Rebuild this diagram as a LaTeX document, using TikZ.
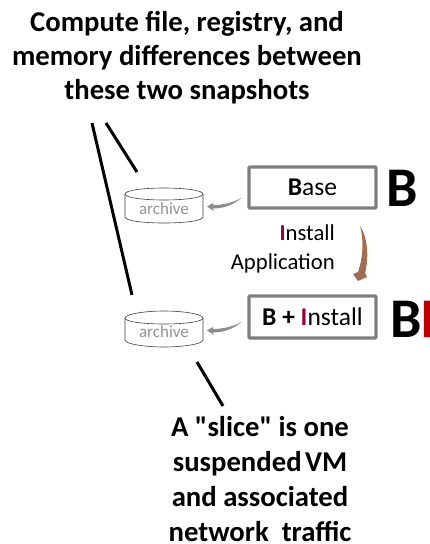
\documentclass[tikz,border=0pt]{standalone}
\usepackage{fontspec}
\setmainfont{Carlito}[Ligatures=TeXOff]
\usetikzlibrary{shapes.geometric,arrows.meta}
\definecolor{boxgray}{RGB}{127,127,127}
\definecolor{crim}{RGB}{150,0,60}
\definecolor{brite}{RGB}{192,0,0}
\definecolor{brownarrow}{RGB}{160,110,80}
\tikzset{
  title/.style={font=\fontsize{28.7}{34}\selectfont\bfseries,align=center,text=black,inner sep=0pt},
  titleb/.style={font=\fontsize{28.7}{35}\selectfont\bfseries,align=center,text=black,inner sep=0pt},
  vmbox/.style={draw=boxgray,line width=3.2pt,fill=white,rounded corners=0.8pt,minimum width=127pt,inner sep=0pt,font=\fontsize{25.5}{28}\selectfont},
  bigl/.style={font=\fontsize{56}{56}\selectfont\bfseries,inner sep=0pt,anchor=west},
  lbl/.style={font=\fontsize{22.7}{28.5}\selectfont,align=right,inner sep=0pt,text=black},
  arch/.style={font=\fontsize{17}{20}\selectfont,text=gray!85,inner sep=0pt},
  cyl/.style={draw=black!75,line width=0.6pt,fill=white},
  lead/.style={draw=black,line width=3pt},
  grayarr/.style={fill=boxgray!90,draw=none}
}
\begin{document}
\begin{tikzpicture}[x=1pt,y=-1pt]
\useasboundingbox (0,0) rectangle (429,544);
\node[title] (t1) at (187,58) {Compute file, registry, and\\memory differences between\\these two snapshots};
\node[titleb] (t2) at (260,479.5) {A "slice" is one\\suspended\kern-3pt\ VM\\and associated\\network\ \ traffic};

\node[vmbox,minimum height=41pt] (base) at (312.5,187.5) {\textbf{B}ase};
\node[vmbox,minimum height=42pt] (inst) at (312.5,317) {\textbf{B + }\textcolor{crim}{\textbf{I}}nstall};
\node[bigl] (bB) at (386,188) {B};
\node[bigl] (bI) at (390,319) {B\kern-1.5pt\textcolor{brite}{I}};
\node[lbl,anchor=north east] (lab) at (335,225) {\textcolor{crim}{\textbf{I}}nstall\\Application};

% archive cylinders
\draw[cyl] (125,194) .. controls (125,190) and (145,188) .. (164,188) .. controls (183,188) and (203,190) .. (203,194) -- (203,217) .. controls (203,221) and (183,223) .. (164,223) .. controls (145,223) and (125,221) .. (125,217) -- cycle;
\draw[cyl] (125,194) .. controls (125,198) and (145,200) .. (164,200) .. controls (183,200) and (203,198) .. (203,194);
\node[arch] (a1) at (164,209) {archive};
\draw[cyl] (125,318) .. controls (125,314) and (145,311) .. (164,311) .. controls (183,311) and (203,314) .. (203,318) -- (203,340) .. controls (203,344) and (183,347) .. (164,347) .. controls (145,347) and (125,344) .. (125,340) -- cycle;
\draw[cyl] (125,318) .. controls (125,322) and (145,324) .. (164,324) .. controls (183,324) and (203,322) .. (203,318);
\node[arch] (a2) at (164,332) {archive};

% lead lines
\coordinate (p1) at (92,123); \coordinate (p2) at (132,295);
\coordinate (p3) at (106,123); \coordinate (p4) at (137,172);
\coordinate (p5) at (197,362); \coordinate (p6) at (223,406);
\draw[lead] (p1) -- (p2);
\draw[lead] (p3) -- (p4);
\draw[lead] (p5) -- (p6);

% gray arrows
\fill[grayarr] (241.5,198) .. controls (232,206) and (222,208.5) .. (213,208.5) -- (214,211) -- (207,206.5) -- (213,203) -- (213,205) .. controls (222,205) and (232,203) .. cycle;
\fill[grayarr] (241.5,322) .. controls (232,330) and (222,332.5) .. (213,332.5) -- (214,335) -- (207,330.5) -- (213,327) -- (213,329) .. controls (222,329) and (232,327) .. cycle;

% brown arrow
\fill[brownarrow] (360,226) .. controls (368,238) and (369,258) .. (365,273) -- (367,277) -- (358,281) -- (353,274) -- (358,272) .. controls (363,258) and (364,240) .. cycle;
\end{tikzpicture}
\end{document}
